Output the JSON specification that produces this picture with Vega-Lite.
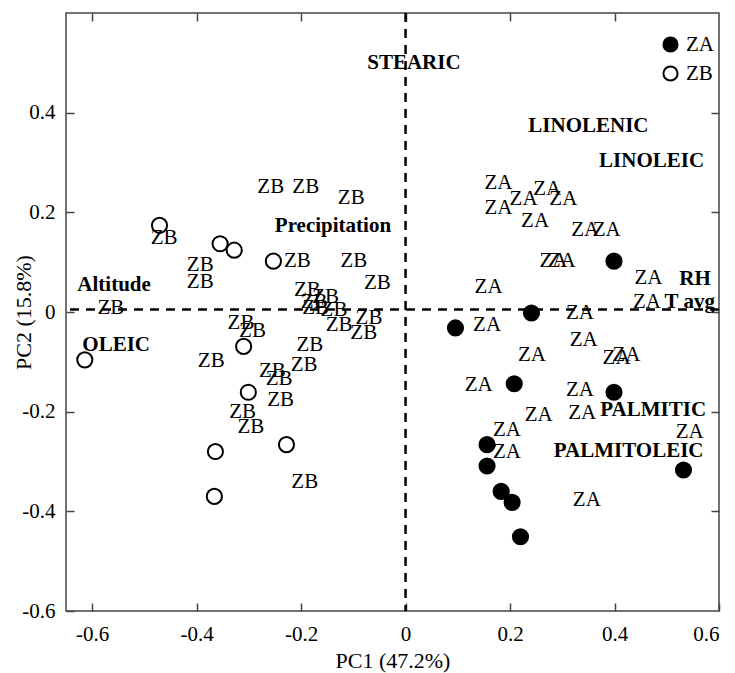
{
  "$schema": "https://vega.github.io/schema/vega-lite/v6.json",
  "width": 653,
  "height": 598,
  "autosize": {"type": "none"},
  "padding": {"left": 66, "top": 13, "right": 16, "bottom": 62},
  "background": "white",
  "config": {
    "view": {"stroke": "#444", "strokeWidth": 1.5},
    "axis": {
      "grid": false,
      "labelFont": "Liberation Serif",
      "labelFontSize": 21,
      "labelColor": "black",
      "titleFont": "Liberation Serif",
      "titleFontSize": 22,
      "titleFontWeight": "normal",
      "titleColor": "black",
      "domain": false,
      "tickColor": "#444",
      "tickWidth": 1.5,
      "tickSize": -8
    },
    "legend": {
      "labelFont": "Liberation Serif",
      "labelFontSize": 21,
      "labelColor": "black"
    }
  },
  "datasets": {
    "pts": [
      {"PC1": -0.471, "PC2": 0.174, "group": "ZB"},
      {"PC1": -0.355, "PC2": 0.137, "group": "ZB"},
      {"PC1": -0.328, "PC2": 0.124, "group": "ZB"},
      {"PC1": -0.253, "PC2": 0.102, "group": "ZB"},
      {"PC1": -0.614, "PC2": -0.096, "group": "ZB"},
      {"PC1": -0.310, "PC2": -0.069, "group": "ZB"},
      {"PC1": -0.301, "PC2": -0.161, "group": "ZB"},
      {"PC1": -0.228, "PC2": -0.266, "group": "ZB"},
      {"PC1": -0.364, "PC2": -0.280, "group": "ZB"},
      {"PC1": -0.366, "PC2": -0.370, "group": "ZB"},
      {"PC1": 0.399, "PC2": 0.102, "group": "ZA"},
      {"PC1": 0.241, "PC2": -0.002, "group": "ZA"},
      {"PC1": 0.0955, "PC2": -0.032, "group": "ZA"},
      {"PC1": 0.208, "PC2": -0.144, "group": "ZA"},
      {"PC1": 0.399, "PC2": -0.161, "group": "ZA"},
      {"PC1": 0.156, "PC2": -0.266, "group": "ZA"},
      {"PC1": 0.156, "PC2": -0.309, "group": "ZA"},
      {"PC1": 0.183, "PC2": -0.360, "group": "ZA"},
      {"PC1": 0.204, "PC2": -0.382, "group": "ZA"},
      {"PC1": 0.220, "PC2": -0.451, "group": "ZA"},
      {"PC1": 0.532, "PC2": -0.317, "group": "ZA"}
    ],
    "labs": [
      {"PC1": -0.258, "PC2": 0.251, "label": "ZB"},
      {"PC1": -0.191, "PC2": 0.251, "label": "ZB"},
      {"PC1": -0.104, "PC2": 0.228, "label": "ZB"},
      {"PC1": -0.462, "PC2": 0.149, "label": "ZB"},
      {"PC1": -0.393, "PC2": 0.095, "label": "ZB"},
      {"PC1": -0.393, "PC2": 0.060, "label": "ZB"},
      {"PC1": -0.564, "PC2": 0.008, "label": "ZB"},
      {"PC1": -0.207, "PC2": 0.102, "label": "ZB"},
      {"PC1": -0.099, "PC2": 0.102, "label": "ZB"},
      {"PC1": -0.054, "PC2": 0.058, "label": "ZB"},
      {"PC1": -0.188, "PC2": 0.045, "label": "ZB"},
      {"PC1": -0.153, "PC2": 0.031, "label": "ZB"},
      {"PC1": -0.175, "PC2": 0.021, "label": "ZB"},
      {"PC1": -0.172, "PC2": 0.008, "label": "ZB"},
      {"PC1": -0.137, "PC2": 0.005, "label": "ZB"},
      {"PC1": -0.127, "PC2": -0.026, "label": "ZB"},
      {"PC1": -0.070, "PC2": -0.012, "label": "ZB"},
      {"PC1": -0.080, "PC2": -0.042, "label": "ZB"},
      {"PC1": -0.315, "PC2": -0.022, "label": "ZB"},
      {"PC1": -0.293, "PC2": -0.039, "label": "ZB"},
      {"PC1": -0.183, "PC2": -0.066, "label": "ZB"},
      {"PC1": -0.194, "PC2": -0.106, "label": "ZB"},
      {"PC1": -0.372, "PC2": -0.099, "label": "ZB"},
      {"PC1": -0.255, "PC2": -0.119, "label": "ZB"},
      {"PC1": -0.242, "PC2": -0.135, "label": "ZB"},
      {"PC1": -0.239, "PC2": -0.176, "label": "ZB"},
      {"PC1": -0.312, "PC2": -0.200, "label": "ZB"},
      {"PC1": -0.296, "PC2": -0.231, "label": "ZB"},
      {"PC1": -0.193, "PC2": -0.342, "label": "ZB"},
      {"PC1": 0.178, "PC2": 0.259, "label": "ZA"},
      {"PC1": 0.226, "PC2": 0.226, "label": "ZA"},
      {"PC1": 0.271, "PC2": 0.246, "label": "ZA"},
      {"PC1": 0.302, "PC2": 0.226, "label": "ZA"},
      {"PC1": 0.178, "PC2": 0.209, "label": "ZA"},
      {"PC1": 0.248, "PC2": 0.182, "label": "ZA"},
      {"PC1": 0.344, "PC2": 0.165, "label": "ZA"},
      {"PC1": 0.385, "PC2": 0.165, "label": "ZA"},
      {"PC1": 0.283, "PC2": 0.102, "label": "ZA"},
      {"PC1": 0.299, "PC2": 0.102, "label": "ZA"},
      {"PC1": 0.159, "PC2": 0.051, "label": "ZA"},
      {"PC1": 0.465, "PC2": 0.068, "label": "ZA"},
      {"PC1": 0.462, "PC2": 0.021, "label": "ZA"},
      {"PC1": 0.334, "PC2": -0.002, "label": "ZA"},
      {"PC1": 0.156, "PC2": -0.026, "label": "ZA"},
      {"PC1": 0.341, "PC2": -0.056, "label": "ZA"},
      {"PC1": 0.242, "PC2": -0.086, "label": "ZA"},
      {"PC1": 0.404, "PC2": -0.092, "label": "ZA"},
      {"PC1": 0.423, "PC2": -0.086, "label": "ZA"},
      {"PC1": 0.140, "PC2": -0.146, "label": "ZA"},
      {"PC1": 0.334, "PC2": -0.156, "label": "ZA"},
      {"PC1": 0.255, "PC2": -0.206, "label": "ZA"},
      {"PC1": 0.338, "PC2": -0.203, "label": "ZA"},
      {"PC1": 0.194, "PC2": -0.236, "label": "ZA"},
      {"PC1": 0.544, "PC2": -0.240, "label": "ZA"},
      {"PC1": 0.194, "PC2": -0.280, "label": "ZA"},
      {"PC1": 0.347, "PC2": -0.377, "label": "ZA"}
    ],
    "vars": [
      {"PC1": 0.016, "PC2": 0.500, "label": "STEARIC"},
      {"PC1": 0.350, "PC2": 0.373, "label": "LINOLENIC"},
      {"PC1": 0.471, "PC2": 0.304, "label": "LINOLEIC"},
      {"PC1": -0.139, "PC2": 0.172, "label": "Precipitation"},
      {"PC1": -0.558, "PC2": 0.055, "label": "Altitude"},
      {"PC1": -0.554, "PC2": -0.066, "label": "OLEIC"},
      {"PC1": 0.554, "PC2": 0.066, "label": "RH"},
      {"PC1": 0.544, "PC2": 0.021, "label": "T avg"},
      {"PC1": 0.474, "PC2": -0.196, "label": "PALMITIC"},
      {"PC1": 0.427, "PC2": -0.279, "label": "PALMITOLEIC"}
    ]
  },
  "layer": [
    {
      "data": {"values": [{"v": 0}]},
      "mark": {"type": "rule", "strokeDash": [9, 7], "strokeWidth": 2.5, "color": "black"},
      "encoding": {
        "x": {"field": "v", "type": "quantitative", "scale": {"domain": [-0.65, 0.6], "nice": false, "zero": false},
          "axis": {"orient": "top", "values": [-0.6, -0.4, -0.2, 0, 0.2, 0.4], "labels": false, "title": null}}
      }
    },
    {
      "data": {"values": [{"v": 0.005}]},
      "mark": {"type": "rule", "strokeDash": [9, 7], "strokeWidth": 2.5, "color": "black"},
      "encoding": {
        "y": {"field": "v", "type": "quantitative", "scale": {"domain": [-0.6, 0.6], "nice": false, "zero": false},
          "axis": {"orient": "right", "values": [-0.4, -0.2, 0, 0.2, 0.4], "labels": false, "title": null}}
      }
    },
    {
      "data": {"name": "pts"},
      "mark": {"type": "point", "shape": "circle", "filled": true, "size": 230, "stroke": "black", "strokeWidth": 2, "opacity": 1},
      "encoding": {
        "x": {"field": "PC1", "type": "quantitative",
          "axis": {"orient": "bottom", "title": "PC1 (47.2%)", "values": [-0.6, -0.4, -0.2, 0, 0.2, 0.4, 0.6], "labelPadding": 20, "titleY": 49, "titleBaseline": "middle",
            "labelExpr": "datum.value == 0 ? '0' : (datum.value < 0 ? '-' + format(-datum.value, '.1f') : format(datum.value, '.1f'))"}},
        "y": {"field": "PC2", "type": "quantitative",
          "axis": {"orient": "left", "title": "PC2 (15.8%)", "values": [-0.6, -0.4, -0.2, 0, 0.2, 0.4], "labelPadding": 19, "titleX": -43, "titleBaseline": "middle",
            "labelExpr": "datum.value == 0 ? '0' : (datum.value < 0 ? '-' + format(-datum.value, '.1f') : format(datum.value, '.1f'))"}},
        "fill": {"field": "group", "type": "nominal", "scale": {"domain": ["ZA", "ZB"], "range": ["black", "white"]},
          "legend": {"orient": "none", "legendX": 594, "legendY": 21, "title": null, "symbolType": "circle", "symbolSize": 200,
            "symbolStrokeColor": "black", "symbolStrokeWidth": 2, "rowPadding": 6, "labelOffset": 5}}
      }
    },
    {
      "data": {"name": "labs"},
      "mark": {"type": "text", "font": "Liberation Serif", "fontSize": 21, "color": "black", "align": "center", "baseline": "middle"},
      "encoding": {
        "x": {"field": "PC1", "type": "quantitative", "axis": null},
        "y": {"field": "PC2", "type": "quantitative", "axis": null},
        "text": {"field": "label"}
      }
    },
    {
      "data": {"name": "vars"},
      "mark": {"type": "text", "font": "Liberation Serif", "fontSize": 21, "fontWeight": "bold", "color": "black", "align": "center", "baseline": "middle"},
      "encoding": {
        "x": {"field": "PC1", "type": "quantitative", "axis": null},
        "y": {"field": "PC2", "type": "quantitative", "axis": null},
        "text": {"field": "label"}
      }
    }
  ],
  "resolve": {"axis": {"x": "independent", "y": "independent"}}
}
